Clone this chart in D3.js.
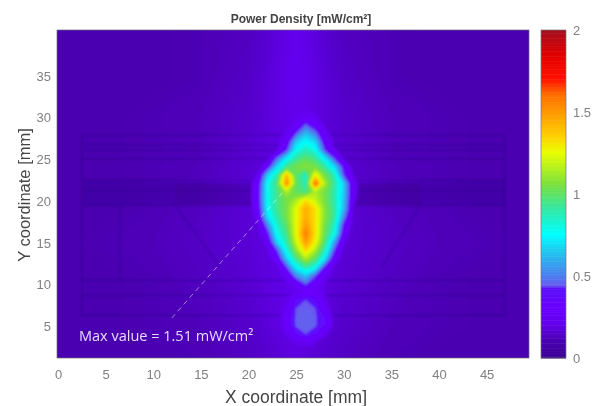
<!DOCTYPE html>
<html><head><meta charset="utf-8"><style>html,body{margin:0;background:#fff}svg{display:block}text{font-family:"Liberation Sans",Arial,sans-serif}</style>
<script src="https://cdn.jsdelivr.net/npm/d3@7"></script></head><body><script>
const colorStops=[0,0.1,0.2,0.3,0.425,0.435,0.5,0.65,0.75,0.9,1.05,1.25,1.35,1.6,1.7,1.85,2];
const colorValues=["#3a0096","#4a00b0","#6200ea","#6a00ff","#5a10f8","#6a58f0","#4a80f0","#20c8f0","#00ffff","#30e8a8","#78e040","#e8ff00","#ffd000","#ff7000","#ff1000","#e00000","#a01020"];
const cbarTicks=[0,0.5,1,1.5,2];
const xTicks=[0,5,10,15,20,25,30,35,40,45];
const yTicks=[5,10,15,20,25,30,35];
// field over the whole board: x 0..50 step 5, y 45..0 step 5
const bgX=[0,5,10,15,20,25,30,35,40,45,50];
const bgY=[45,40,35,30,25,20,15,10,5,0];
const bgValues=[
[.10,.10,.10,.10,.12,.19,.12,.10,.10,.10,.10],
[.10,.10,.10,.11,.13,.21,.13,.11,.10,.10,.10],
[.10,.10,.10,.11,.14,.22,.14,.11,.10,.10,.10],
[.10,.10,.11,.12,.15,.21,.15,.12,.11,.10,.10],
[.10,.10,.11,.12,.16,.20,.16,.12,.11,.10,.10],
[.10,.10,.11,.13,.17,.20,.17,.13,.11,.10,.10],
[.10,.11,.12,.14,.17,.20,.17,.14,.12,.11,.10],
[.10,.10,.11,.13,.16,.21,.16,.13,.11,.10,.10],
[.10,.10,.11,.12,.15,.21,.15,.12,.11,.10,.10],
[.10,.10,.10,.11,.13,.18,.13,.11,.10,.10,.10]];
// hot region: x 20..32 step 1, y 31..3 step 1
const hotX=[20,21,22,23,24,25,26,27,28,29,30,31,32];
const hotY=[31,30,29,28,27,26,25,24,23,22,21,20,19,18,17,16,15,14,13,12,11,10,9,8,7,6,5,4,3];
const hotValues=[
[.14,.15,.16,.17,.18,.20,.21,.20,.18,.17,.16,.15,.14],
[.14,.15,.16,.17,.19,.23,.27,.24,.19,.17,.16,.15,.14],
[.14,.15,.16,.18,.20,.28,.46,.34,.22,.18,.16,.15,.14],
[.14,.15,.16,.19,.24,.44,.64,.50,.26,.19,.16,.15,.14],
[.15,.16,.17,.20,.30,.66,.76,.68,.34,.20,.17,.16,.15],
[.15,.16,.18,.22,.42,.78,.88,.80,.44,.24,.18,.16,.15],
[.16,.17,.20,.48,.74,.92,1.0,.94,.74,.44,.22,.17,.16],
[.16,.18,.36,.70,.95,1.05,1.08,1.05,.92,.70,.38,.18,.16],
[.17,.24,.66,.90,1.42,1.0,.85,1.3,1.05,.88,.44,.22,.17],
[.18,.32,.78,.98,1.55,1.02,.86,1.62,1.15,.92,.66,.26,.18],
[.18,.34,.78,.95,1.15,1.0,.95,1.15,1.05,.90,.66,.26,.18],
[.18,.34,.78,.95,1.05,1.15,1.32,1.2,1.05,.90,.64,.24,.18],
[.17,.32,.76,.95,1.05,1.25,1.45,1.32,1.08,.92,.62,.22,.17],
[.17,.27,.70,.90,1.05,1.25,1.45,1.32,1.08,.92,.52,.20,.17],
[.16,.22,.52,.85,1.0,1.25,1.5,1.32,1.05,.86,.38,.20,.16],
[.16,.20,.38,.78,.95,1.25,1.58,1.32,1.02,.80,.30,.18,.16],
[.15,.18,.26,.68,.90,1.2,1.5,1.28,.98,.58,.24,.18,.15],
[.15,.17,.22,.44,.80,1.1,1.35,1.15,.88,.44,.20,.17,.15],
[.14,.16,.20,.30,.66,.95,1.15,1.0,.72,.28,.19,.16,.14],
[.14,.15,.18,.22,.44,.76,.92,.80,.40,.22,.18,.15,.14],
[.14,.15,.17,.20,.26,.54,.66,.46,.26,.20,.17,.15,.14],
[.14,.15,.17,.19,.22,.28,.46,.32,.22,.19,.17,.15,.14],
[.14,.15,.16,.18,.20,.24,.28,.26,.22,.18,.16,.15,.14],
[.14,.15,.16,.18,.22,.38,.44,.38,.24,.18,.16,.15,.14],
[.14,.15,.16,.18,.26,.44,.45,.44,.28,.18,.16,.15,.14],
[.14,.15,.16,.18,.30,.45,.46,.45,.36,.20,.16,.15,.14],
[.14,.15,.16,.18,.30,.45,.46,.45,.36,.20,.16,.15,.14],
[.14,.15,.16,.17,.24,.38,.44,.38,.25,.17,.16,.15,.14],
[.14,.14,.15,.16,.18,.22,.24,.22,.18,.16,.15,.14,.14]];
// faint board outline seen through the field: [x1,y1,x2,y2] in mm
const boardLines=[[2.5,27.8,46.9,27.8],[2.5,26.6,46.9,26.6],[2.5,26,46.9,26],[2.5,25,46.9,25],[2.5,22.4,46.9,22.4],[2.5,21.2,46.9,21.2],[2.5,19.4,46.9,19.4],
[2.5,10.4,46.9,10.4],[2.5,8.6,46.9,8.6],[2.5,6.2,46.9,6.2],[2.5,27.8,2.5,6.2],[46.9,27.8,46.9,6.2],[6.5,19.4,6.5,10.4],[12.3,19.4,17,12],[38,19.4,34,12]];
// darker copper patches: [x1,y1,x2,y2] in mm
const boardPatches=[[2.5,22.4,12.3,19.4],[12.3,22,20.5,19.4],[31,22,38,19.4],[38,22.4,46.9,19.4]];
const leader=[[11.95,5.9],[23.8,21.2]];
const titleText="Power Density [mW/cm²]",xTitle="X coordinate [mm]",yTitle="Y coordinate [mm]",noteText="Max value = 1.51 mW/cm²";

const W=596,H=406,L=57,R=529,T=30,B=358;
const x=d3.scaleLinear().domain([0,49.45]).range([L+1,R]);
const y=d3.scaleLinear().domain([1.1,40.4]).range([B,T]);
const color=d3.scaleLinear().domain(colorStops).range(colorValues).clamp(true);
const svg=d3.select("body").append("svg").attr("width",W).attr("height",H).attr("viewBox",`0 0 ${W} ${H}`);
const defs=svg.append("defs");
defs.append("clipPath").attr("id","plot").append("rect").attr("x",L).attr("y",T).attr("width",R-L).attr("height",B-T);
defs.append("filter").attr("id","soft").attr("x","-5%").attr("y","-5%").attr("width","110%").attr("height","110%").append("feGaussianBlur").attr("stdDeviation",0.8);
defs.append("filter").attr("id","softer").attr("x","-5%").attr("y","-5%").attr("width","110%").attr("height","110%").append("feGaussianBlur").attr("stdDeviation",1);

const plot=svg.append("g").attr("clip-path","url(#plot)");
plot.append("rect").attr("x",L).attr("y",T).attr("width",R-L).attr("height",B-T).attr("fill",color(0.1));
function layer(parent,xs,ys,vals,thresholds){
  const dx=xs[1]-xs[0],dy=ys[1]-ys[0];
  const proj=d3.geoTransform({point(a,b){this.stream.point(x(xs[0]+(a-.5)*dx),y(ys[0]+(b-.5)*dy));}});
  const path=d3.geoPath(proj);
  parent.append("g").selectAll("path").data(d3.contours().size([xs.length,ys.length]).thresholds(thresholds)(vals.flat()))
    .join("path").attr("d",path).attr("fill",d=>color(d.value));
}
layer(plot,bgX,bgY,bgValues,d3.range(0.1,0.23,0.004));
const marks=plot.append("g").attr("filter","url(#softer)");
marks.selectAll("rect").data(boardPatches).join("rect")
  .attr("x",d=>x(d[0])).attr("y",d=>y(d[1])).attr("width",d=>x(d[2])-x(d[0])).attr("height",d=>y(d[3])-y(d[1]))
  .attr("fill","#200060").attr("opacity",(d,i)=>i%3==0?0.1:0.24);
marks.selectAll("line").data(boardLines).join("line")
  .attr("x1",d=>x(d[0])).attr("y1",d=>y(d[1])).attr("x2",d=>x(d[2])).attr("y2",d=>y(d[3]))
  .attr("stroke","#200060").attr("stroke-width",1.2).attr("opacity",.26);
const hotG=plot.append("g").attr("filter","url(#soft)");
layer(hotG,hotX,hotY,hotValues,d3.range(0.22,2,0.012));
plot.append("path").attr("d",d3.line().x(d=>x(d[0])).y(d=>y(d[1]))(leader))
  .attr("fill","none").attr("stroke","#fff").attr("stroke-opacity",.5).attr("stroke-dasharray","5 4").attr("stroke-width",1);
plot.append("text").attr("x",79).attr("y",341).attr("fill","#e6dcff").style("font-family","Open Sans").attr("font-size",14.5).text(noteText);
svg.append("rect").attr("x",L).attr("y",T).attr("width",R-L).attr("height",B-T).attr("fill","none").attr("stroke","#6a6a7a").attr("stroke-width",.7);

const xAxis=svg.append("g").attr("transform",`translate(0,${B})`).call(d3.axisBottom(x).tickValues(xTicks).tickSize(0).tickPadding(12));
const yAxis=svg.append("g").attr("transform",`translate(${L},1)`).call(d3.axisLeft(y).tickValues(yTicks).tickSize(0).tickPadding(6));
[xAxis,yAxis].forEach(a=>{a.select(".domain").remove();a.selectAll("text").attr("font-size",13).attr("fill","#808080").style("font-family","Liberation Sans");});
svg.append("text").attr("x",296).attr("y",403).attr("text-anchor","middle").attr("font-size",17.5).attr("fill","#444").text(xTitle);
svg.append("text").attr("transform","translate(30,195) rotate(-90)").attr("text-anchor","middle").attr("font-size",16.5).attr("fill","#444").text(yTitle);
svg.append("text").attr("x",301).attr("y",23).attr("text-anchor","middle").attr("font-size",12).attr("font-weight","bold").attr("fill","#444").text(titleText);

const cb=d3.scaleLinear().domain([0,2]).range([B,T]);
const cbL=541,cbW=25;
svg.append("g").selectAll("rect").data(d3.range(0,2,0.01)).join("rect")
  .attr("x",cbL).attr("width",cbW).attr("y",d=>cb(d+0.01)).attr("height",d=>cb(d)-cb(d+0.01)+.5).attr("fill",d=>color(d));
svg.append("rect").attr("x",cbL).attr("y",T).attr("width",cbW).attr("height",B-T).attr("fill","none").attr("stroke","#777").attr("stroke-width",.7);
const cAxis=svg.append("g").attr("transform",`translate(${cbL+cbW},0)`).call(d3.axisRight(cb).tickValues(cbarTicks).tickSize(0).tickPadding(7).tickFormat(d=>d));
cAxis.select(".domain").remove();
cAxis.selectAll("text").attr("font-size",13).attr("fill","#808080").style("font-family","Liberation Sans");
</script></body></html>
